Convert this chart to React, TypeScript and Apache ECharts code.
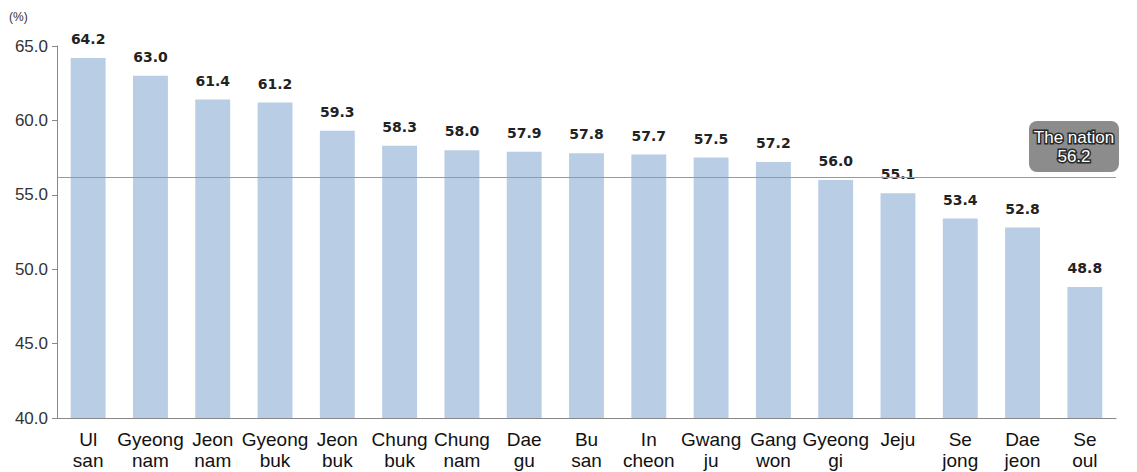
import React, { useEffect, useRef } from "react";
import * as echarts from "echarts";

const categories = [
  "Ul\nsan", "Gyeong\nnam", "Jeon\nnam", "Gyeong\nbuk", "Jeon\nbuk", "Chung\nbuk",
  "Chung\nnam", "Dae\ngu", "Bu\nsan", "In\ncheon", "Gwang\nju", "Gang\nwon",
  "Gyeong\ngi", "Jeju", "Se\njong", "Dae\njeon", "Se\noul",
];
const values = [64.2, 63.0, 61.4, 61.2, 59.3, 58.3, 58.0, 57.9, 57.8, 57.7, 57.5, 57.2, 56.0, 55.1, 53.4, 52.8, 48.8];
const nationValue = 56.2;
const nationLabel = "The nation";
const yMin = 40;
const yMax = 65;
const yStep = 5;

export default function App() {
  const ref = useRef<HTMLDivElement>(null);
  useEffect(() => {
    if (!ref.current) return;
    const chart = echarts.init(ref.current, null, { renderer: "svg" });
    chart.setOption({
      animation: false,
      backgroundColor: "#ffffff",
      grid: { left: 57, right: 21, top: 46, bottom: 54, containLabel: false },
      xAxis: {
        type: "category",
        data: categories,
        axisLine: { lineStyle: { color: "#888888", width: 1 } },
        axisTick: { show: false },
        axisLabel: {
          color: "#111111",
          fontSize: 19,
          lineHeight: 21,
          fontFamily: "Liberation Sans, Arial, sans-serif",
          interval: 0,
          margin: 11,
        },
      },
      yAxis: {
        type: "value",
        min: yMin,
        max: yMax,
        interval: yStep,
        axisLine: { show: true, lineStyle: { color: "#888888" } },
        axisTick: { show: true, length: 5, lineStyle: { color: "#888888" } },
        splitLine: { show: false },
        axisLabel: {
          color: "#333333",
          fontSize: 17,
          fontFamily: "Liberation Sans, Arial, sans-serif",
          margin: 9,
          formatter: (v: number) => v.toFixed(1),
        },
      },
      series: [
        {
          type: "bar",
          data: values,
          barWidth: "56%",
          itemStyle: { color: "#b9cde5" },
          label: {
            show: true,
            position: "top",
            distance: 12,
            color: "#222222",
            fontWeight: "bold",
            fontSize: 14,
            fontFamily: "DejaVu Sans, sans-serif",
            formatter: (p: any) => Number(p.value).toFixed(1),
          },
          markLine: {
            silent: true,
            symbol: "none",
            label: { show: false },
            lineStyle: { color: "#999999", type: "solid", width: 1 },
            data: [{ yAxis: nationValue }],
          },
        },
      ],
      graphic: [
        {
          type: "text",
          left: 9,
          top: 11,
          style: { text: "(%)", fill: "#333333", fontSize: 12, fontFamily: "Liberation Sans, Arial, sans-serif" },
        },
        {
          type: "group",
          right: 18,
          top: 121,
          children: [
            {
              type: "rect",
              shape: { x: 0, y: 0, width: 90, height: 51, r: 8 },
              style: { fill: "#8c8c8c" },
            },
            {
              type: "text",
              x: 45,
              y: 25.5,
              style: {
                text: nationLabel + "\n" + nationValue.toFixed(1),
                fill: "#ffffff",
                stroke: "#2a2a2a",
                lineWidth: 3,
                fontSize: 17,
                lineHeight: 19,
                align: "center",
                verticalAlign: "middle",
                fontFamily: "Liberation Sans, Arial, sans-serif",
              },
            },
          ],
        },
      ],
    });
    return () => chart.dispose();
  }, []);
  return <div ref={ref} style={{ width: 1137, height: 472, position: "absolute", left: 0, top: 0 }} />;
}
